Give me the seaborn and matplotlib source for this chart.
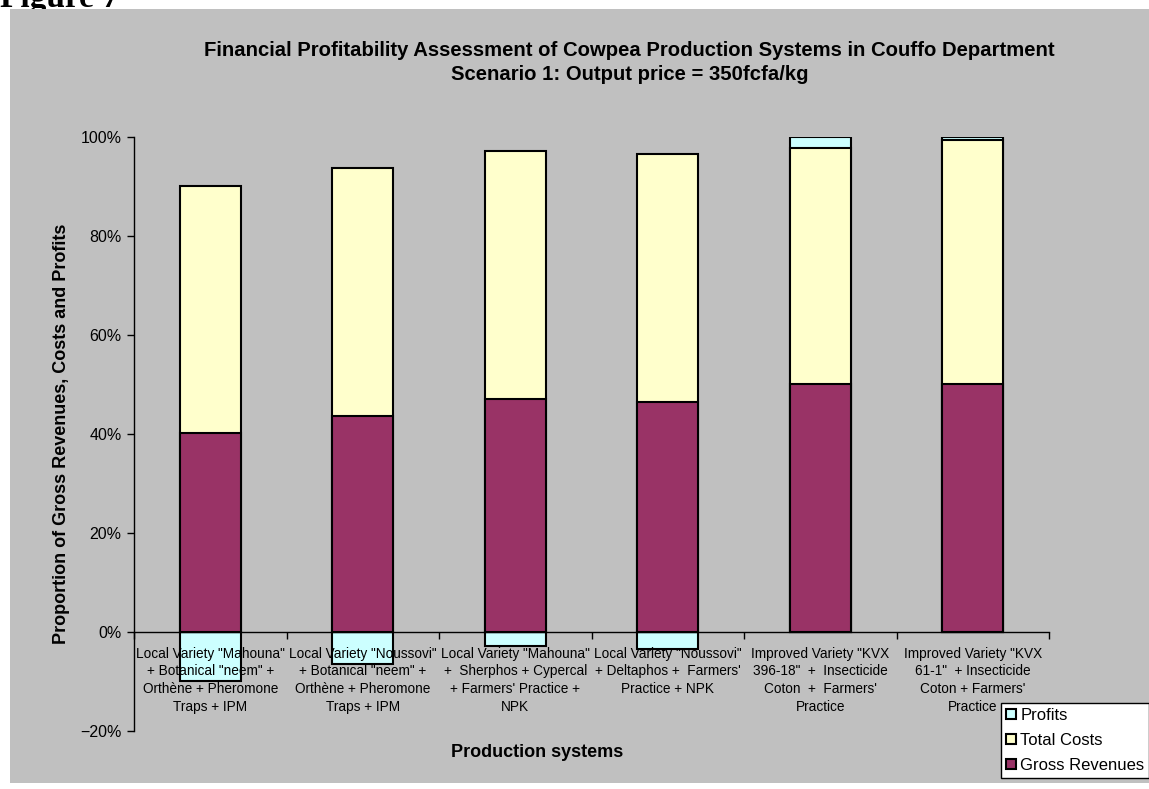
import numpy as np
import pandas as pd
import matplotlib
matplotlib.use("Agg")
import matplotlib.pyplot as plt
import seaborn as sns
from matplotlib.patches import Patch, Rectangle
from matplotlib.ticker import PercentFormatter, FixedLocator

# ---- data ----
systems = [
    'Local Variety "Mahouna"\n+ Botanical "neem" +\nOrthène + Pheromone\nTraps + IPM',
    'Local Variety "Noussovi"\n+ Botanical "neem" +\nOrthène + Pheromone\nTraps + IPM',
    'Local Variety "Mahouna"\n+  Sherphos + Cypercal\n+ Farmers\' Practice +\nNPK',
    'Local Variety "Noussovi"\n+ Deltaphos +  Farmers\'\nPractice + NPK',
    'Improved Variety "KVX\n396-18"  +  Insecticide\nCoton  +  Farmers\'\nPractice',
    'Improved Variety "KVX\n61-1"  + Insecticide\nCoton + Farmers\'\nPractice',
]
gross_revenues = [40.1, 43.6, 47.1, 46.5, 50.0, 50.0]
total_costs = [50.0, 50.0, 50.0, 50.0, 47.7, 49.3]
profits = [-9.9, -6.4, -2.9, -3.5, 2.3, 0.7]
y_ticks = [-20, 0, 20, 40, 60, 80, 100]
series_names = ["Profits", "Total Costs", "Gross Revenues"]
series_colors = ["#CCFFFF", "#FFFFCC", "#993366"]

title = ("Financial Profitability Assessment of Cowpea Production Systems in Couffo Department\n"
         "Scenario 1: Output price = 350fcfa/kg")
x_label = "Production systems"
y_label = "Proportion of Gross Revenues, Costs and Profits"

plt.rcParams["font.family"] = ["Liberation Sans", "DejaVu Sans"]

W, H = 1149, 789
fig = plt.figure(figsize=(W / 100, H / 100), dpi=100)
fig.patch.set_facecolor("white")

# grey chart area
fig.add_artist(Rectangle((10 / W, 1 - 783 / H), 1, (783 - 9) / H, transform=fig.transFigure,
                         facecolor="#C0C0C0", edgecolor="none", zorder=-2))
fig.text(0.0, 1 - 7 / H, "Figure 7", family=["Liberation Serif"], fontweight="bold",
         fontsize=24, va="baseline", ha="left", zorder=-3)

ax = fig.add_axes([134 / W, 1 - 731 / H, 915 / W, (731 - 136.7) / H])
ax.set_facecolor("none")

gr = np.array(gross_revenues)
tc = np.array(total_costs)
pr = np.array(profits)
df = pd.DataFrame({
    "system": systems,
    "gross": gr,
    "cost_top": gr + tc,
    "profit_bar": np.where(pr > 0, gr + tc + pr, pr),
})

common = dict(x="system", order=systems, width=0.4, edgecolor="black", linewidth=1.5,
              saturation=1, errorbar=None, ax=ax)
sns.barplot(data=df, y="profit_bar", color=series_colors[0], **common)
sns.barplot(data=df, y="cost_top", color=series_colors[1], **common)
sns.barplot(data=df, y="gross", color=series_colors[2], **common)

ax.set_xlim(-0.5, len(systems) - 0.5)
ax.set_ylim(-20, 100)
ax.set_xlabel("")
ax.set_ylabel("")

for s in ["top", "right"]:
    ax.spines[s].set_visible(False)
ax.spines["bottom"].set_position(("data", 0))
for s in ["left", "bottom"]:
    ax.spines[s].set_color("black")
    ax.spines[s].set_linewidth(1)

ax.yaxis.set_major_locator(FixedLocator(y_ticks))
ax.yaxis.set_major_formatter(PercentFormatter(decimals=0))
ax.tick_params(axis="y", direction="out", length=5, width=1, color="black",
               labelsize=11.5, labelcolor="black", pad=4, left=True)
ax.set_xticks(np.arange(-0.5, len(systems), 1), minor=True)
ax.tick_params(axis="x", which="major", length=0, pad=10.5, labelsize=9.8, labelcolor="black")
ax.tick_params(axis="x", which="minor", length=5, width=1, direction="out", color="black", bottom=True)
for t in ax.get_xticklabels():
    t.set_linespacing(1.35)

fig.text(629.5 / W, 1 - 62.5 / H, title, ha="center", va="center", fontsize=14.6,
         fontweight="bold", linespacing=1.4)
fig.text(537 / W, 1 - 752.7 / H, x_label, ha="center", va="center", fontsize=13, fontweight="bold")
fig.text(62 / W, 1 - 434 / H, y_label, ha="center", va="center", rotation=90,
         fontsize=13, fontweight="bold")

handles = [Patch(facecolor=c, edgecolor="black", linewidth=1.5, label=n)
           for n, c in zip(series_names, series_colors)]
leg = fig.legend(handles=handles, loc="upper left", bbox_to_anchor=(1001 / W, 1 - 703 / H),
                 frameon=True, fancybox=False, framealpha=1, edgecolor="black", facecolor="white",
                 fontsize=12, handlelength=0.6, handleheight=0.6, handletextpad=0.25,
                 labelspacing=0.6, borderpad=0.3, borderaxespad=0)
leg.get_frame().set_linewidth(1)

fig.savefig("out.png", dpi=100, facecolor="white")
